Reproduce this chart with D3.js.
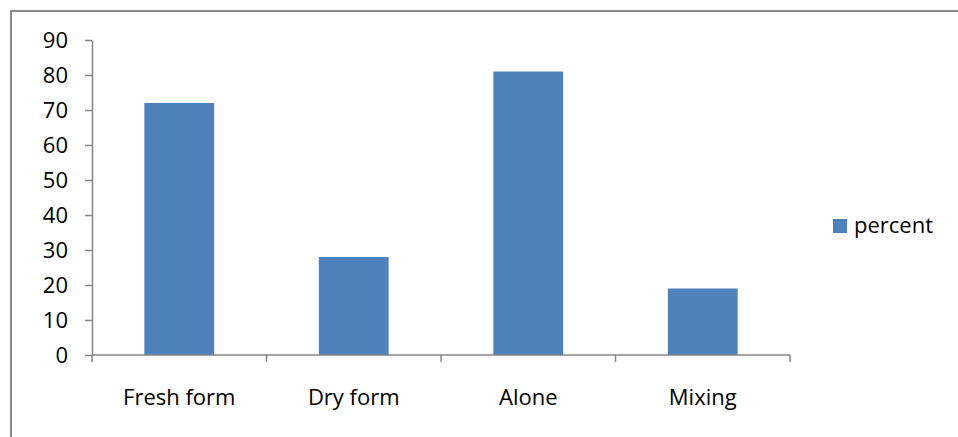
<!DOCTYPE html>
<html>
<head>
<meta charset="utf-8">
<script src="https://cdn.jsdelivr.net/npm/d3@7"></script>
<style>
  html, body { margin: 0; padding: 0; background: #fff; }
  svg { display: block; }
  text { font-family: "Open Sans", "Liberation Sans", sans-serif; fill: #000; }
</style>
</head>
<body>
<div id="chart"></div>
<script>
// Share of respondents by form of use
const categories = ["Fresh form", "Dry form", "Alone", "Mixing"];
const percentValues = [72, 28, 81, 19];
const yTicks = [0, 10, 20, 30, 40, 50, 60, 70, 80, 90];
const seriesName = "percent";

const W = 958, H = 437;
const barColor = "#4F81BD";
const axisColor = "#868686";

const svg = d3.select("#chart").append("svg")
  .attr("width", W).attr("height", H);

// chart frame (top and left edges are visible)
svg.append("line").attr("x1", 11).attr("x2", W).attr("y1", 11).attr("y2", 11)
  .attr("stroke", "#8a8a8a").attr("stroke-width", 2);
svg.append("line").attr("x1", 11).attr("x2", 11).attr("y1", 10).attr("y2", H)
  .attr("stroke", "#8a8a8a").attr("stroke-width", 2);

const plot = { left: 92, right: 790, top: 40, bottom: 355 };

const x = d3.scaleBand()
  .domain(categories)
  .range([plot.left, plot.right])
  .paddingInner(0.6)
  .paddingOuter(0.3);

const y = d3.scaleLinear()
  .domain([0, 90])
  .range([plot.bottom, plot.top]);

// bars
svg.append("g").selectAll("rect")
  .data(categories)
  .join("rect")
  .attr("x", (d) => x(d))
  .attr("width", x.bandwidth())
  .attr("y", (d, i) => y(percentValues[i]))
  .attr("height", (d, i) => y(0) - y(percentValues[i]))
  .attr("fill", barColor);

// y axis
const yAxis = svg.append("g")
  .attr("transform", `translate(${plot.left},0)`)
  .call(d3.axisLeft(y).tickValues(yTicks).tickSize(7).tickPadding(17).tickSizeOuter(0));
yAxis.select(".domain").attr("stroke", axisColor).attr("stroke-width", 1.5);
yAxis.selectAll(".tick line").attr("stroke", axisColor).attr("stroke-width", 1.5);
yAxis.selectAll(".tick text")
  .attr("font-size", 22)
  .attr("font-family", "'Open Sans', 'Liberation Sans', sans-serif")
  .attr("fill", "#000");

// x axis: tick marks sit on the boundaries between categories
const xAxis = svg.append("g");
xAxis.append("line")
  .attr("x1", plot.left).attr("x2", plot.right)
  .attr("y1", plot.bottom).attr("y2", plot.bottom)
  .attr("stroke", axisColor).attr("stroke-width", 1.5);
const boundaries = categories.map((d) => x(d) - x.step() * x.paddingOuter());
boundaries.push(plot.right);
xAxis.selectAll("line.tick")
  .data(boundaries)
  .join("line")
  .attr("class", "tick")
  .attr("x1", (d) => d).attr("x2", (d) => d)
  .attr("y1", plot.bottom).attr("y2", plot.bottom + 7)
  .attr("stroke", axisColor).attr("stroke-width", 1.5);
xAxis.selectAll("text")
  .data(categories)
  .join("text")
  .attr("x", (d) => x(d) + x.bandwidth() / 2)
  .attr("y", 405)
  .attr("text-anchor", "middle")
  .attr("font-size", 22)
  .text((d) => d);

// legend
const legend = svg.append("g").attr("transform", "translate(833,219)");
legend.append("rect").attr("width", 14).attr("height", 14).attr("fill", barColor);
legend.append("text").attr("x", 21).attr("y", 14).attr("font-size", 22).text(seriesName);
</script>
</body>
</html>
